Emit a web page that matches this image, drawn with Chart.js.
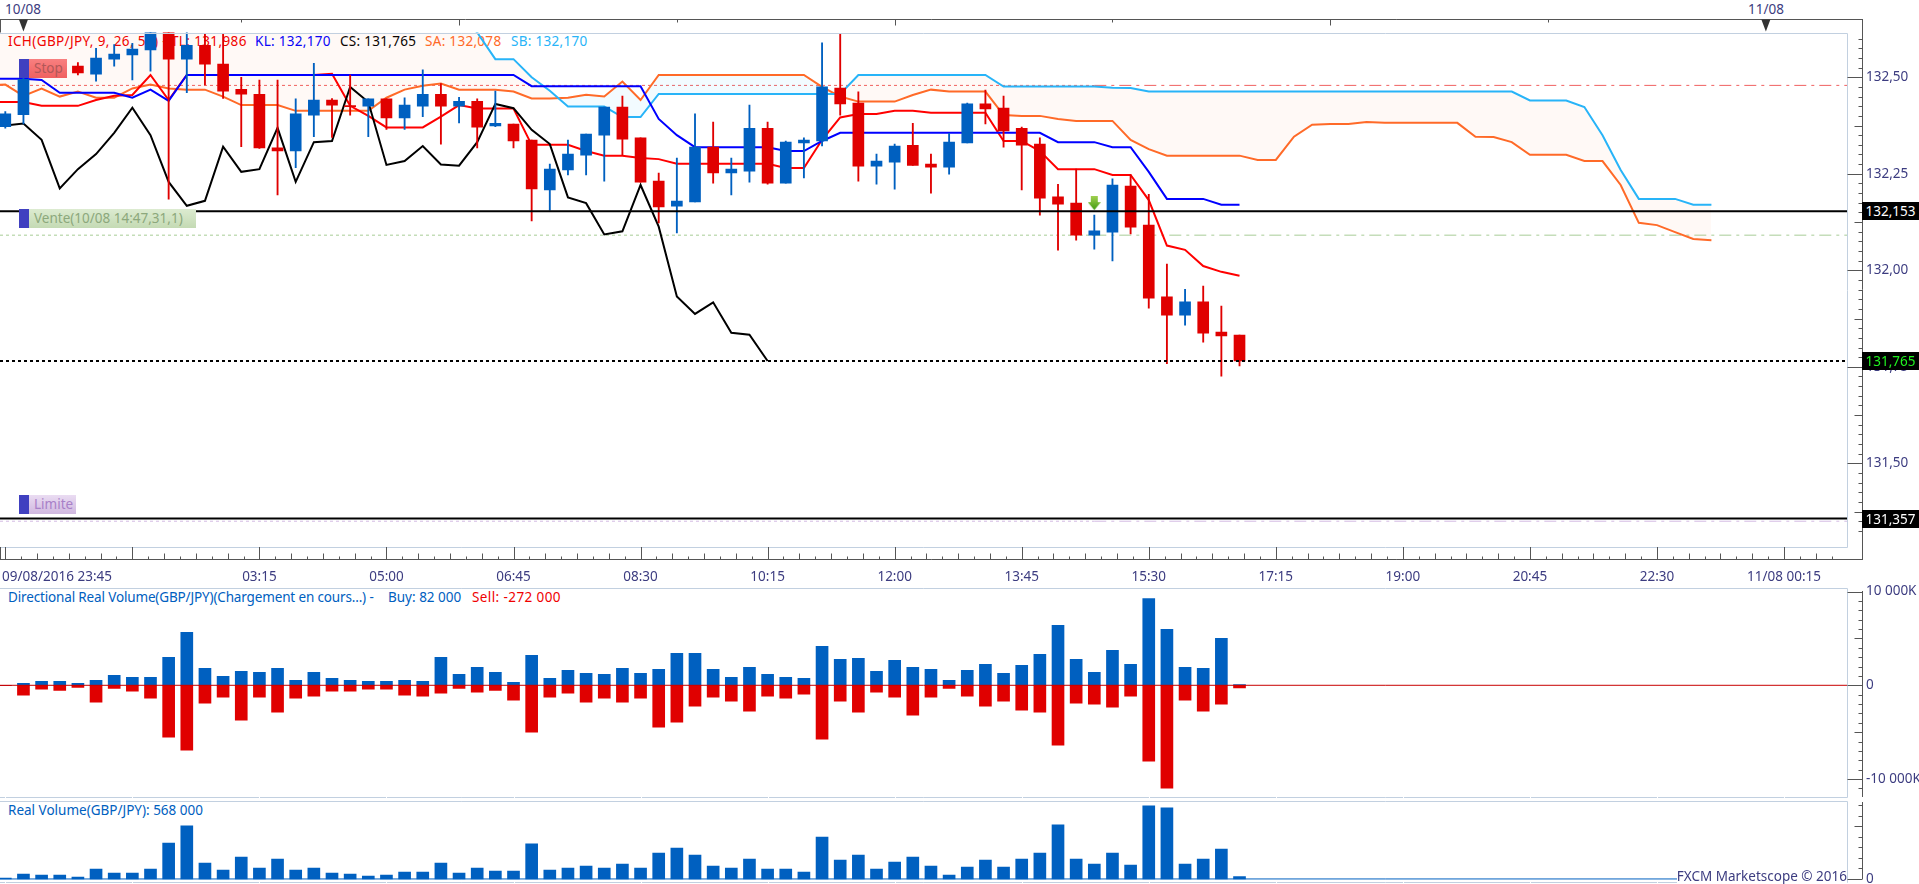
<!DOCTYPE html>
<html>
<head>
<meta charset="utf-8">
<title>GBP/JPY</title>
<script src="https://cdn.jsdelivr.net/npm/chart.js@4"></script>
<style>
    html, body { margin: 0; padding: 0; background: #fff; overflow: hidden; }
    #page { position: relative; width: 1919px; height: 884px; overflow: hidden; font: 13.5px "Noto Sans", sans-serif; }
    canvas { position: absolute; left: 0; z-index: 1; }
    .txt { position: absolute; white-space: nowrap; line-height: 16px; z-index: 0; }
    .axis { color: #3c3c80; }
    .tag { position: absolute; left: 1862px; width: 57px; height: 18px; line-height: 18px; background: #000; color: #fff; text-align: center; z-index: 3; }
    .mark { position: absolute; left: 19px; height: 19px; line-height: 19px; z-index: 3; border-left: 10px solid #4040c0; padding-left: 5px; box-sizing: border-box; }
</style>
</head>
<body>
<div id="page">
    <div class="txt axis" style="left:5px;top:1px">10/08</div>
    <div class="txt axis" style="left:1748px;top:1px">11/08</div>

    <div class="txt" style="left:8px;top:33px;color:#f00000;letter-spacing:.38px">ICH(GBP/JPY, 9, 26, 52) - TL: 131,986</div>
    <div class="txt" style="left:255px;top:33px;color:#0000ff;letter-spacing:.3px">KL: 132,170</div>
    <div class="txt" style="left:340px;top:33px;color:#000;letter-spacing:.3px">CS: 131,765</div>
    <div class="txt" style="left:425px;top:33px;color:#ff6a28;letter-spacing:.3px">SA: 132,078</div>
    <div class="txt" style="left:511px;top:33px;color:#28b4f8;letter-spacing:.3px">SB: 132,170</div>

    <div class="mark" style="top:59px;width:48px;background:linear-gradient(#f88080,#f06060);color:#b05858">Stop</div>
    <div class="mark" style="top:209px;width:177px;background:linear-gradient(#dcebd0,#c4dab4);color:#8ca87c">Vente(10/08 14:47,31,1)</div>
    <div class="mark" style="top:495px;width:57px;background:linear-gradient(#eadcf2,#d0b8e0);color:#a880c8">Limite</div>

    <div class="tag" style="top:202px">132,153</div>
    <div class="tag" style="top:352px;color:#20f020">131,765</div>
    <div class="tag" style="top:510px">131,357</div>

    <div class="txt" style="left:8px;top:589px;color:#0060c0;letter-spacing:-.15px">Directional Real Volume(GBP/JPY)(Chargement en cours...) -</div>
    <div class="txt" style="left:388px;top:589px;color:#0060c0">Buy: 82 000</div>
    <div class="txt" style="left:472px;top:589px;color:#f00000;letter-spacing:.4px">Sell: -272 000</div>
    <div class="txt" style="left:8px;top:802px;color:#0060c0">Real Volume(GBP/JPY): 568 000</div>
    <div class="txt axis" style="right:72px;top:868px;z-index:2;background:#fff">FXCM Marketscope © 2016</div>

    <canvas id="mainChart" width="1919" height="585" style="top:0"></canvas>
    <canvas id="flowChart" width="1919" height="214" style="top:585px"></canvas>
    <canvas id="volChart" width="1919" height="85" style="top:799px"></canvas>
</div>

<script>
/* ==================== DATA ==================== */

// one candle per 15 minutes, first one is 09/08/2016 23:45
const opens = [132.372,132.403,132.506,132.536,132.529,132.508,132.547,132.558,132.571,132.622,132.547,132.583,132.534,132.469,132.456,132.317,132.309,132.402,132.441,132.427,132.425,132.444,132.395,132.425,132.456,132.425,132.438,132.374,132.379,132.337,132.208,132.260,132.298,132.350,132.423,132.343,132.231,132.166,132.177,132.319,132.252,132.257,132.368,132.226,132.330,132.335,132.472,132.433,132.270,132.280,132.324,132.275,132.267,132.330,132.431,132.420,132.368,132.327,132.190,132.174,132.091,132.099,132.218,132.117,131.931,131.884,131.918,131.840,131.832];
const highs = [132.411,132.545,132.538,132.543,132.538,132.575,132.585,132.588,132.640,132.640,132.625,132.614,132.614,132.500,132.493,132.493,132.444,132.536,132.445,132.506,132.444,132.444,132.447,132.519,132.484,132.448,132.444,132.464,132.379,132.337,132.275,132.337,132.353,132.423,132.451,132.343,132.252,132.291,132.405,132.384,132.291,132.428,132.384,132.335,132.343,132.589,132.612,132.462,132.301,132.327,132.381,132.301,132.355,132.433,132.467,132.451,132.371,132.343,132.223,132.262,132.143,132.237,132.247,132.197,132.016,131.951,131.959,131.907,131.832];
const lows = [132.368,132.379,132.501,132.506,132.506,132.490,132.529,132.493,132.516,132.184,132.460,132.480,132.445,132.320,132.316,132.195,132.266,132.346,132.344,132.402,132.346,132.365,132.365,132.398,132.327,132.382,132.317,132.372,132.317,132.128,132.156,132.247,132.247,132.231,132.298,132.228,132.123,132.097,132.177,132.226,132.195,132.228,132.223,132.226,132.239,132.322,132.402,132.231,132.223,132.210,132.272,132.200,132.249,132.330,132.379,132.319,132.208,132.143,132.052,132.078,132.055,132.024,132.094,131.902,131.758,131.858,131.814,131.726,131.752];
const closes = [132.405,132.495,132.527,132.529,132.511,132.550,132.560,132.573,132.622,132.547,132.583,132.534,132.464,132.456,132.317,132.309,132.405,132.441,132.428,132.424,132.444,132.395,132.428,132.456,132.425,132.438,132.371,132.381,132.335,132.211,132.262,132.301,132.353,132.423,132.340,132.228,132.164,132.179,132.319,132.252,132.262,132.368,132.226,132.332,132.337,132.475,132.431,132.270,132.283,132.322,132.272,132.267,132.332,132.431,132.418,132.361,132.324,132.187,132.171,132.091,132.102,132.221,132.112,131.928,131.884,131.918,131.837,131.830,131.765];

// ichimoku lines, these start one bar before the first candle (off the left edge)
const tenkan = [132.436,132.436,132.436,132.426,132.426,132.426,132.441,132.452,132.454,132.506,132.441,132.506,132.506,132.506,132.506,132.506,132.506,132.506,132.506,132.509,132.426,132.400,132.370,132.370,132.370,132.398,132.428,132.419,132.419,132.419,132.325,132.325,132.325,132.309,132.297,132.297,132.291,132.288,132.276,132.276,132.276,132.276,132.276,132.276,132.265,132.265,132.338,132.396,132.405,132.405,132.413,132.413,132.408,132.408,132.408,132.408,132.335,132.335,132.309,132.262,132.262,132.262,132.247,132.247,132.182,132.064,132.053,132.011,131.996,131.986];
const kijun = [132.496,132.496,132.496,132.493,132.460,132.460,132.460,132.460,132.447,132.468,132.439,132.506,132.506,132.506,132.506,132.506,132.506,132.506,132.506,132.506,132.506,132.506,132.506,132.506,132.506,132.506,132.506,132.506,132.506,132.506,132.477,132.477,132.477,132.477,132.477,132.477,132.477,132.392,132.350,132.319,132.319,132.319,132.319,132.319,132.309,132.309,132.335,132.356,132.356,132.356,132.356,132.356,132.356,132.356,132.356,132.356,132.356,132.356,132.356,132.332,132.332,132.332,132.319,132.319,132.255,132.185,132.185,132.185,132.170,132.170];
const senkouA = [132.480,132.481,132.452,132.471,132.450,132.463,132.447,132.447,132.471,132.481,132.471,132.468,132.468,132.450,132.428,132.428,132.428,132.413,132.413,132.413,132.413,132.413,132.447,132.468,132.478,132.484,132.468,132.468,132.468,132.463,132.445,132.445,132.447,132.455,132.450,132.489,132.441,132.506,132.506,132.506,132.506,132.506,132.506,132.506,132.506,132.506,132.475,132.450,132.437,132.437,132.437,132.454,132.468,132.463,132.463,132.463,132.402,132.400,132.400,132.392,132.387,132.387,132.387,132.338,132.314,132.297,132.297,132.297,132.297,132.297,132.286,132.286,132.346,132.377,132.379,132.379,132.384,132.382,132.382,132.382,132.382,132.382,132.346,132.345,132.332,132.299,132.299,132.299,132.283,132.283,132.221,132.123,132.117,132.099,132.081,132.078];
const senkouB = [132.700,132.700,132.700,132.700,132.700,132.700,132.700,132.700,132.700,132.700,132.700,132.700,132.700,132.700,132.700,132.700,132.700,132.700,132.700,132.700,132.700,132.700,132.700,132.700,132.700,132.700,132.660,132.616,132.547,132.547,132.500,132.465,132.424,132.424,132.424,132.397,132.397,132.457,132.457,132.457,132.457,132.457,132.457,132.457,132.457,132.457,132.457,132.457,132.506,132.506,132.506,132.506,132.506,132.506,132.506,132.506,132.476,132.476,132.476,132.476,132.476,132.476,132.473,132.472,132.463,132.463,132.463,132.463,132.463,132.463,132.463,132.463,132.463,132.463,132.463,132.463,132.463,132.463,132.463,132.463,132.463,132.463,132.463,132.463,132.463,132.440,132.440,132.440,132.423,132.350,132.260,132.185,132.185,132.185,132.170,132.170];
const chikou = [132.377,132.375,132.380,132.338,132.212,132.262,132.301,132.356,132.421,132.350,132.229,132.167,132.180,132.320,132.255,132.262,132.369,132.229,132.332,132.335,132.475,132.436,132.273,132.283,132.322,132.274,132.271,132.332,132.431,132.420,132.364,132.327,132.189,132.174,132.093,132.101,132.221,132.113,131.932,131.887,131.917,131.838,131.833,131.765];

// horizontal levels
const orderLevel = 132.153;
const closeLevel = 131.765;
const limitLevel = 131.357;
const stopEntry = 132.479;
const sellEntry = 132.091;
const limitEntry = 131.350;
const entryBar = 60;
const arrowPrice = 132.174;

// directional volume, in K
const buyVolume = [0,213,426,426,213,533,1065,852,852,2982,5645,1811,959,1491,1385,1811,533,1385,746,533,426,426,533,426,2982,1172,1917,1385,320,3195,746,1598,1278,1172,1811,1278,1704,3408,3408,1704,852,1917,1172,852,746,4154,2769,2876,1491,2663,1917,1704,533,1598,2237,1278,2130,3302,6390,2769,1385,3728,2237,9266,5964,1917,1811,5006,82];
const sellVolume = [0,-1065,-426,-533,-213,-1811,-320,-639,-1385,-5538,-6923,-1917,-1278,-3728,-1278,-2876,-1385,-1172,-639,-639,-426,-426,-1065,-1172,-852,-320,-746,-533,-1598,-5006,-1278,-852,-1811,-1385,-1811,-1385,-4473,-3941,-2237,-1278,-1704,-2769,-1172,-1385,-959,-5751,-1704,-2876,-746,-1278,-3195,-1278,-320,-1172,-2237,-1704,-2663,-2876,-6390,-1917,-2024,-2343,-1172,-8094,-10970,-1598,-2769,-2024,-272];
const realVolume = [237,1184,947,947,473,2367,1420,1420,2367,8521,12545,3787,2130,5207,2604,4734,2130,2604,1420,1184,710,947,1657,1657,3787,1420,2604,1894,1894,8285,2130,2604,3077,2604,3551,2604,6154,7338,5681,3077,2604,4734,2367,2367,1657,9941,4497,5681,2367,4024,5207,3077,947,2840,4497,2840,4734,6154,12782,4734,3551,6154,3314,17279,16806,3551,4734,7101,568];

// axis labels
const timeTickBars = [14,21,28,35,42,49,56,63,70,77,84,91,98];
const timeTickLabels = ['03:15','05:00','06:45','08:30','10:15','12:00','13:45','15:30','17:15','19:00','20:45','22:30','11/08 00:15'];
const firstTimeLabel = '09/08/2016 23:45';
const priceTicks = [131.5,131.75,132,132.25,132.5];
const flowTicks = [-10000,0,10000];

/* ==================== SHARED SETTINGS ==================== */

const BLUE = '#0060c0';
const RED = '#e00000';
const AXIS_COLOR = '#555555';
const BORDER_COLOR = '#c2d0e0';
const LABEL_COLOR = '#3c3c80';
const FONT = { family: '"Noto Sans", sans-serif', size: 13.5 };

// bar 0 sits 5px in from the left edge, bars are 18.15px apart
const X_MIN = -0.292;
const X_MAX = 101.47;
const AXIS_OFFSET = 15;

function points(values, firstBar = 0) {
    return values.map((v, i) => ({ x: i + firstBar, y: v }));
}

function hLine(from, to, y) {
    return [{ x: from, y: y }, { x: to, y: y }];
}

function lineSet(data, color, width, order, extra) {
    return Object.assign({
        type: 'line',
        data: data,
        borderColor: color,
        borderWidth: width,
        pointRadius: 0,
        tension: 0,
        order: order
    }, extra || {});
}

function barSet(data, color, thickness, order) {
    return {
        type: 'bar',
        data: data,
        backgroundColor: color,
        barThickness: thickness,
        borderSkipped: false,
        order: order
    };
}

// the scale label overflow must not push the plot area around
function noScalePadding(scale) {
    scale.paddingLeft = 0;
    scale.paddingRight = 0;
    scale.paddingTop = 0;
    scale.paddingBottom = 0;
}

function baseOptions(yScale, padding) {
    return {
        responsive: false,
        animation: false,
        devicePixelRatio: 1,
        layout: { autoPadding: false, padding: padding },
        plugins: { legend: { display: false }, tooltip: { enabled: false } },
        events: [],
        datasets: { bar: { grouped: false } },
        scales: {
            x: {
                type: 'linear',
                min: X_MIN,
                max: X_MAX,
                offset: false,
                display: false,
                grid: { display: false }
            },
            y: Object.assign({
                type: 'linear',
                position: 'right',
                grid: { display: false, drawTicks: false },
                border: { display: false },
                afterFit(scale) {
                    scale.width = 72;
                    noScalePadding(scale);
                }
            }, yScale)
        }
    };
}

function line(ctx, x1, y1, x2, y2) {
    ctx.beginPath();
    ctx.moveTo(x1, y1);
    ctx.lineTo(x2, y2);
    ctx.stroke();
}

// plot border and right axis with its small ticks
function framePlugin(cfg) {
    return {
        id: 'frame',
        afterDraw(chart) {
            const ctx = chart.ctx;
            const a = chart.chartArea;
            const axisX = Math.round(a.right) + AXIS_OFFSET + 0.5;
            const right = Math.round(a.right) + 0.5;
            const top = Math.round(a.top) + 0.5;
            const bottom = Math.round(a.bottom) + 0.5;
            ctx.save();
            ctx.lineWidth = 1;

            ctx.strokeStyle = BORDER_COLOR;
            ctx.beginPath();
            ctx.moveTo(0, top);
            ctx.lineTo(right, top);
            ctx.lineTo(right, bottom);
            ctx.lineTo(0, bottom);
            ctx.stroke();

            if (cfg.notches) {
                ctx.strokeStyle = '#fff';
                for (let bar = 0; bar <= 98; bar += 7) {
                    const x = Math.round(chart.scales.x.getPixelForValue(bar)) + 0.5;
                    line(ctx, x, bottom - 1, x, bottom + 1);
                }
            }

            ctx.strokeStyle = AXIS_COLOR;
            line(ctx, axisX, cfg.axisTop, axisX, cfg.axisBottom);
            for (let n = cfg.firstTick; n <= cfg.lastTick; n++) {
                const y = Math.round(chart.scales.y.getPixelForValue(n * cfg.step)) + 0.5;
                let from = axisX - 4;
                if (n % cfg.mid === 0) from = axisX - 8;
                if (n % cfg.major === 0) from = right;
                line(ctx, from, y, axisX, y);
            }
            ctx.restore();
        }
    };
}

// time scale: top strip with day markers, bottom strip with bar ticks
const timeStrips = {
    id: 'timeStrips',
    afterDraw(chart) {
        const ctx = chart.ctx;
        const xs = chart.scales.x;
        const a = chart.chartArea;
        const topY = 19.5;
        const bottomY = 559.5;
        const plotBottom = Math.round(a.bottom);
        const axisX = Math.round(a.right) + AXIS_OFFSET + 0.5;
        ctx.save();
        ctx.lineWidth = 1;
        ctx.strokeStyle = AXIS_COLOR;

        line(ctx, 0, topY, axisX, topY);
        line(ctx, 0, bottomY, axisX, bottomY);
        line(ctx, 0.5, topY, 0.5, a.top);
        line(ctx, 0.5, plotBottom, 0.5, bottomY);

        for (let bar = 1; bar <= 85; bar += 12) {
            const x = Math.round(xs.getPixelForValue(bar)) + 0.5;
            line(ctx, x, topY, x, topY + ((bar - 1) % 24 === 0 ? 6 : 3));
        }

        for (let n = 0; n * 0.875 <= 101.4; n++) {
            const x = Math.round(xs.getPixelForValue(n * 0.875)) + 0.5;
            let len = 3;
            if (n % 2 === 0) len = 6;
            if (n % 8 === 0) len = bottomY - plotBottom;
            line(ctx, x, bottomY - len, x, bottomY);
        }

        // day change markers
        ctx.fillStyle = '#333';
        [1, 97].forEach(bar => {
            const x = xs.getPixelForValue(bar);
            ctx.beginPath();
            ctx.moveTo(x - 4.5, topY);
            ctx.lineTo(x + 4.5, topY);
            ctx.lineTo(x, topY + 12);
            ctx.closePath();
            ctx.fill();
        });
        ctx.restore();
    }
};

function arrowImage() {
    const c = document.createElement('canvas');
    c.width = 13;
    c.height = 14;
    const g = c.getContext('2d');
    const grad = g.createLinearGradient(0, 0, 0, 14);
    grad.addColorStop(0, '#a0d050');
    grad.addColorStop(1, '#3f9a10');
    g.fillStyle = grad;
    g.beginPath();
    g.moveTo(3, 0);
    g.lineTo(10, 0);
    g.lineTo(10, 6);
    g.lineTo(13, 6);
    g.lineTo(6.5, 14);
    g.lineTo(0, 6);
    g.lineTo(3, 6);
    g.closePath();
    g.fill();
    return c;
}

/* ==================== PRICE CHART ==================== */

function initMainChart() {
    const wicks = highs.map((h, i) => ({ x: i, y: [lows[i], h] }));
    const bodies = opens.map((o, i) => ({ x: i, y: [o, closes[i]] }));
    const candleColors = opens.map((o, i) => closes[i] >= o ? BLUE : RED);

    const datasets = [
        // 0: cloud edge, filled up to dataset 1 (see-through so the header text stays readable)
        lineSet(points(senkouA, -1), '#ff6a28', 2, 8, {
            fill: { target: 1, above: 'rgba(40,180,248,0.06)', below: 'rgba(255,106,40,0.045)' }
        }),
        lineSet(points(senkouB, -1), '#28b4f8', 2, 7),
        lineSet(points(tenkan, -1), '#ff0000', 2, 6),
        lineSet(points(kijun, -1), '#0000ff', 2, 5),
        lineSet(points(chikou, -1), '#000000', 2, 4),
        barSet(wicks, candleColors, 1.2, 3),
        barSet(bodies, candleColors, 11, 2),
        lineSet(hLine(X_MIN, X_MAX, orderLevel), '#000000', 2, 1),
        lineSet(hLine(X_MIN, X_MAX, limitLevel), '#000000', 2, 1),
        lineSet(hLine(X_MIN, X_MAX, closeLevel), '#000000', 2, 1, { borderDash: [3, 3] }),
        lineSet([{ x: entryBar, y: arrowPrice }], '#3f9a10', 0, 0, {
            pointRadius: 7,
            pointStyle: arrowImage(),
            showLine: false
        })
    ];

    [[stopEntry, '#f06060'], [sellEntry, '#a8cc96'], [limitEntry, '#d4bce4']].forEach(([price, color]) => {
        datasets.push(lineSet(hLine(X_MIN, entryBar, price), color, 1, 9, { borderDash: [3, 3] }));
        datasets.push(lineSet(hLine(entryBar, X_MAX, price), color, 1, 9, { borderDash: [12, 5, 3, 5] }));
    });

    const options = baseOptions({
        min: 131.284,
        max: 132.616,
        afterBuildTicks(scale) { scale.ticks = priceTicks.map(v => ({ value: v })); },
        ticks: {
            padding: 19,
            color: LABEL_COLOR,
            font: FONT,
            callback: v => v.toFixed(2).replace('.', ',')
        }
    }, { top: 32.5, left: 0, right: 0, bottom: 0 });

    options.scales.x.display = true;
    options.scales.x.border = { display: false };
    options.scales.x.afterFit = scale => {
        scale.height = 38.3;
        noScalePadding(scale);
    };
    options.scales.x.afterBuildTicks = scale => {
        // the first label starts at the left edge instead of being centred on its bar
        scale.ticks = [{ value: 2.85, label: firstTimeLabel }]
            .concat(timeTickBars.map((b, i) => ({ value: b, label: timeTickLabels[i] })));
    };
    options.scales.x.ticks = {
        autoSkip: false,
        maxRotation: 0,
        minRotation: 0,
        padding: 14,
        color: LABEL_COLOR,
        font: FONT,
        callback: (v, i) => i === 0 ? firstTimeLabel : timeTickLabels[i - 1]
    };

    new Chart(document.getElementById('mainChart'), {
        type: 'bar',
        data: { datasets: datasets },
        options: options,
        plugins: [
            framePlugin({ axisTop: 19, axisBottom: 560, firstTick: 5253, lastTick: 5304, step: 0.025, mid: 5, major: 10 }),
            timeStrips
        ]
    });
}

/* ==================== VOLUME PANELS ==================== */

function initFlowChart() {
    const options = baseOptions({
        min: -11950,
        max: 10350,
        afterBuildTicks(scale) { scale.ticks = flowTicks.map(v => ({ value: v })); },
        ticks: {
            padding: 19,
            color: LABEL_COLOR,
            font: FONT,
            callback: v => v === 0 ? '0' : (v < 0 ? '-10 000K' : '10 000K')
        }
    }, { top: 3.3, left: 0, right: 0, bottom: 1.7 });

    new Chart(document.getElementById('flowChart'), {
        type: 'bar',
        data: {
            datasets: [
                barSet(points(buyVolume), BLUE, 12, 3),
                barSet(points(sellVolume), RED, 12, 2),
                lineSet(hLine(X_MIN, X_MAX, 0), '#c80000', 1, 1)
            ]
        },
        options: options,
        plugins: [framePlugin({ axisTop: 6, axisBottom: 212, firstTick: -11, lastTick: 10, step: 1000, mid: 5, major: 10, notches: true })]
    });
}

function initVolChart() {
    const options = baseOptions({
        min: -790,
        max: 18380,
        afterBuildTicks(scale) { scale.ticks = [{ value: 0 }]; },
        ticks: {
            padding: 19,
            color: LABEL_COLOR,
            font: FONT,
            callback: () => '0'
        }
    }, { top: 2.3, left: 0, right: 0, bottom: 1.7 });

    new Chart(document.getElementById('volChart'), {
        type: 'bar',
        data: {
            datasets: [
                barSet(points(realVolume), BLUE, 12, 2),
                lineSet(hLine(X_MIN, X_MAX, 0), BLUE, 1, 1)
            ]
        },
        options: options,
        plugins: [framePlugin({ axisTop: 3, axisBottom: 80, firstTick: 0, lastTick: 7, step: 2500, mid: 5, major: 100, notches: true })]
    });
}

initMainChart();
initFlowChart();
initVolChart();
</script>
</body>
</html>
